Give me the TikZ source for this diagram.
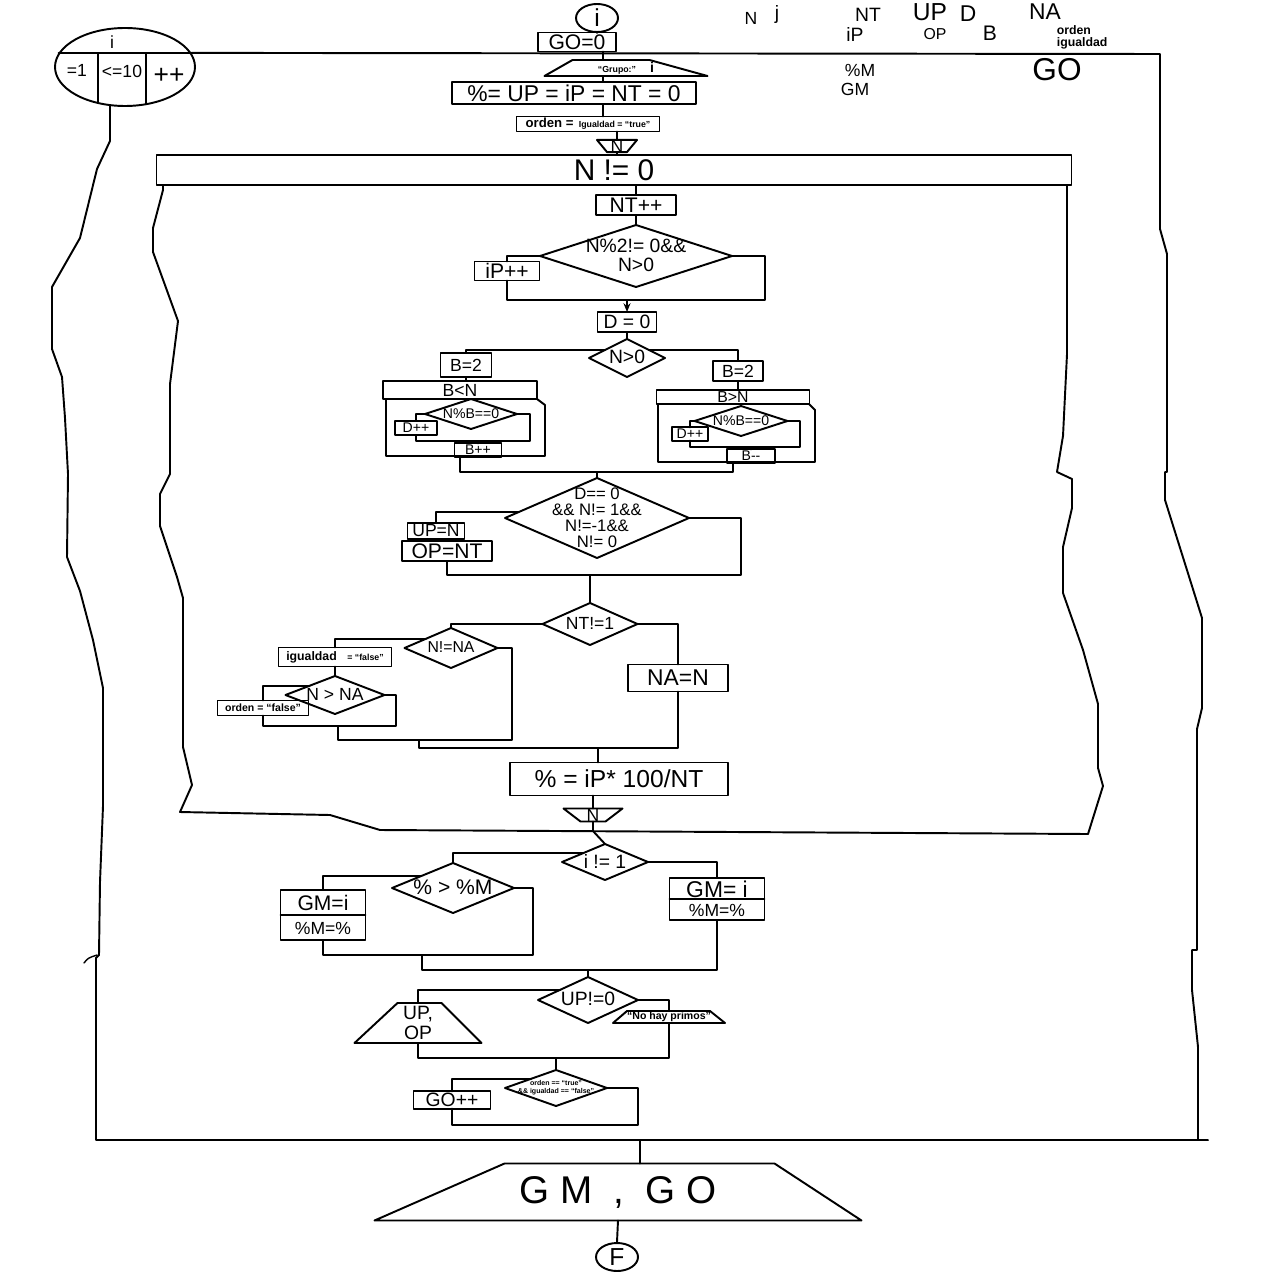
\documentclass[tikz,border=0pt]{standalone}
\usepackage{fontspec}
\setmainfont{Liberation Sans}
\usetikzlibrary{shapes.geometric,arrows.meta}
\newcommand{\fs}[1]{\fontsize{#1}{#1}\selectfont}
\newcommand{\dtext}[1]{\smash{\raisebox{-.35em}{\makebox[0pt]{\begin{tabular}{@{}c@{}}#1\end{tabular}}}}}
% narrow top (output) and narrow bottom (input) shapes round a node
\newcommand{\outtrap}[3]{\draw (#1.south west) -- (#1.south east) -- ([xshift=-#3*0.02cm]#1.north east) -- ([xshift=#2*0.02cm]#1.north west) -- cycle;}
\newcommand{\intrap}[3]{\draw (#1.north west) -- (#1.north east) -- ([xshift=-#3*0.02cm]#1.south east) -- ([xshift=#2*0.02cm]#1.south west) -- cycle;}
\begin{document}
\begin{tikzpicture}[x=0.02cm,y=-0.02cm,line width=1.1pt,line cap=round,line join=round,
  sz/.style 2 args={minimum width=#1*0.02cm,minimum height=#2*0.02cm},
  box/.style={draw,rectangle,inner sep=1pt,outer sep=0pt},
  dia/.style={draw,diamond,inner sep=0pt,outer sep=0pt},
  trap/.style={rectangle,inner sep=0pt,outer sep=0pt},
  circ/.style={draw,ellipse,inner sep=0pt,font=\fs{14}},
  arr/.style={-{Stealth[length=5pt,width=4pt]}}]
\fill[white] (0,0) rectangle (1280,1280);
\useasboundingbox (0,0) rectangle (1280,1280);

% variables
\node[font=\fs{10}] (vN) at (751,18) {N};
\node[font=\fs{11}] (vj) at (777,15) {j};
\node[font=\fs{11}] (vNT) at (868,15) {NT};
\node[font=\fs{14}] (vUP) at (930,12) {UP};
\node[font=\fs{13}] (vD) at (968,14) {D};
\node[font=\fs{13}] (vNA) at (1045,12) {NA};
\node[font=\fs{11}] (viP) at (855,35) {iP};
\node[font=\fs{9}] (vOP) at (935,34) {OP};
\node[font=\fs{12}] (vB) at (990,33) {B};
\node[font=\fs{7}\bfseries,anchor=west] (vorden) at (1050,30) {orden};
\node[font=\fs{7}\bfseries,anchor=west] (vigual) at (1050,43) {igualdad};
\node[font=\fs{10}] (vpM) at (860,70) {\%M};
\node[font=\fs{10}] (vGM) at (855,89) {GM};
\node[font=\fs{18}] (vGO) at (1057,70) {GO};

% for i
\node[draw,ellipse,inner sep=0pt,sz={140}{78}] (fori) at (125,67) {};
\draw (fori.168) -- (fori.12);
\draw (98,53) -- (98,103);
\draw (146,53) -- (146,104);
\node[font=\fs{10}] (fi) at (112,42) {i};
\node[font=\fs{10}] (fa) at (77,70) {=1};
\node[font=\fs{10}] (fb) at (122,71) {<=10};
\node[font=\fs{15}] (fc) at (169,76) {++};
\draw (fori.12) -- (1160,54) -- (1160,229) -- (1167,254) -- (1167,472) -- (1165,472) -- (1165,500)
  -- (1202,618) -- (1202,708) -- (1197,729) -- (1197,950) -- (1192,950) -- (1192,990) -- (1198,1047) -- (1198,1140);
\draw (110,105) -- (110,141) -- (97,169) -- (80,238) -- (52,287) -- (52,349) -- (62,377) -- (65,418)
  -- (68,474) -- (67,557) -- (80,591) -- (93,640) -- (103,688) -- (103,806) -- (100,882) -- (99,955)
  -- (96,958) -- (96,1140) -- (1208,1140);
\draw[line width=.8pt] (84,963) .. controls (88,958) .. (97,955);

% start
\node[circ,sz={42}{28}] (start) at (597,18) {i};
\node[box,sz={78}{19},font=\fs{12}] (go0) at (577,42) {GO=0};
\coordinate (s1) at (603,0);
\node[trap,sz={163}{16}] (grupo) at (626,68) {{\fs{5}\bfseries “Grupo:”}\hspace{8pt}{\fs{8}\bfseries i}};
\outtrap{grupo}{28}{58}
\node[box,sz={244}{22},font=\fs{13}] (init) at (574,93) {\%= UP = iP = NT = 0};
\node[box,sz={143}{15}] (ordtrue) at (588,124) {{\fs{7.5}\bfseries orden =}\hspace{3pt}{\fs{5}\bfseries Igualdad = “true”}};
\node[trap,sz={40}{12},font=\fs{10}] (nin) at (617,146) {N};
\intrap{nin}{10}{10}
\draw (start.south) -- (start.south |- go0.north);
\draw (go0.south -| s1) -- (grupo.north -| s1);
\draw (grupo.south -| s1) -- (init.north -| s1);
\draw (init.south -| s1) -- (ordtrue.north -| s1);
\draw (ordtrue.south -| nin.north) -- (nin.north);

% while N != 0
\node[box,sz={915}{30},font=\fs{17}] (whileN) at (614,170) {N != 0};
\draw (nin.south) -- (nin.south |- whileN.north);
\draw (163,185) -- (163,190) -- (153,228) -- (153,252) -- (178,321) -- (170,384) -- (170,474) -- (160,494)
  -- (160,526) -- (177,577) -- (183,598) -- (183,747) -- (192,785) -- (180,812) -- (330,815) -- (380,830) -- (1088,834);
\draw (1067,185) -- (1067,354) -- (1063,436) -- (1057,472) -- (1072,479) -- (1072,508) -- (1063,547)
  -- (1063,593) -- (1083,650) -- (1098,704) -- (1098,768) -- (1103,786) -- (1088,834);

\node[box,sz={80}{20},font=\fs{12}] (ntinc) at (636,205) {NT++};
\node[dia,sz={192}{62},font=\fs{11}] (c1) at (636,256) {\dtext{N\%2!= 0\&\&\\N>0}};
\node[box,sz={65}{19},font=\fs{12}] (ipinc) at (507,271) {iP++};
\coordinate (m1) at (627,300);
\coordinate (r1) at (765,300);
\draw (whileN.south -| ntinc.north) -- (ntinc.north);
\draw (ntinc.south) -- (c1.north);
\draw (c1.west) -| (ipinc.north);
\draw (ipinc.south) |- (r1) |- (c1.east);

\node[box,sz={59}{20},font=\fs{11}] (d0) at (627,322) {D = 0};
\draw[arr] (m1) -- (d0.north);
\node[dia,sz={76}{38},font=\fs{11}] (c2) at (627,358) {\dtext{N>0}};
\draw (d0.south) -- (c2.north);

% B < N
\node[box,sz={51}{24},font=\fs{10}] (b2l) at (466,365) {B=2};
\node[box,sz={154}{18},font=\fs{10}] (loopl) at (460,390) {B<N};
\draw (386,399) -- (386,456) -- (545,456) -- (545,405) -- (537,399);
\node[dia,sz={92}{30},font=\fs{8}] (c3l) at (471,414) {\dtext{N\%B==0}};
\node[box,sz={42}{14},font=\fs{8}] (dincl) at (416,428) {D++};
\coordinate (rl) at (530,441);
\node[box,sz={47}{12},font=\fs{8}] (bincl) at (478,450) {B++};
\draw (c2.160) -| (b2l.north);
\draw (b2l.south) -- (b2l.south |- loopl.north);
\draw (c3l.west) -| (dincl.north);
\draw (dincl.south) |- (rl) |- (c3l.east);
\draw (bincl.north |- rl) -- (bincl.north);

% B > N
\node[box,sz={50}{20},font=\fs{10}] (b2r) at (738,371) {B=2};
\node[box,sz={153}{14},font=\fs{9}] (loopr) at (733,397) {B>N};
\draw (658,404) -- (658,462) -- (815,462) -- (815,410) -- (809,404);
\node[dia,sz={93}{30},font=\fs{8}] (c3r) at (741,421) {\dtext{N\%B==0}};
\node[box,sz={36}{12},font=\fs{8}] (dincr) at (690,434) {D++};
\coordinate (rr) at (800,447);
\node[box,sz={48}{12},font=\fs{8}] (bdec) at (751,456) {B-{}-};
\draw (c2.20) -| (b2r.north);
\draw (b2r.south) -- (b2r.south |- loopr.north);
\draw (c3r.west) -| (dincr.north);
\draw (dincr.south) |- (rr) |- (c3r.east);
\draw (bdec.north |- rr) -- (bdec.north);

\coordinate (m2) at (597,472);
\draw (loopl.south |- bincl.south) |- (m2) -| (loopr.south |- bdec.south);

% prime test
\node[dia,sz={184}{80},font=\fontsize{9.5}{8.5}\selectfont] (c4) at (597,518) {\dtext{D== 0\\\&\& N!= 1\&\&\\N!=-1\&\&\\N!= 0}};
\node[box,sz={57}{16},font=\fs{10}] (upn) at (436,531) {UP=N};
\node[box,sz={90}{20},font=\fs{12}] (opnt) at (447,551) {OP=NT};
\coordinate (r4) at (741,575);
\coordinate (m4) at (590,575);
\draw (m2) -- (c4.north);
\draw (c4.176) -| (upn.north);
\draw (upn.south) -- (upn.south |- opnt.north);
\draw (opnt.south) |- (r4) |- (c4.east);

% NT != 1
\node[dia,sz={95}{42},font=\fs{10}] (c5) at (590,624) {\dtext{NT!=1}};
\node[dia,sz={93}{40},font=\fs{9}] (c6) at (451,648) {\dtext{N!=NA}};
\node[box,sz={113}{19}] (igf) at (335,657) {{\fs{7}\bfseries igualdad}\hspace{6pt}{\fs{5}\bfseries = “false”}};
\node[dia,sz={99}{38},font=\fs{10}] (c7) at (335,695) {\dtext{N > NA}};
\node[box,sz={91}{15},font=\fs{6}\bfseries] (ordf) at (263,708) {orden = “false”};
\node[box,sz={100}{27},font=\fs{13}] (nan) at (678,678) {NA=N};
\coordinate (r7) at (396,726);
\coordinate (m7) at (338,726);
\coordinate (r6) at (512,740);
\coordinate (ml6) at (419,740);
\coordinate (j5) at (419,748);
\coordinate (m5) at (598,748);
\draw (m4) -- (c5.north);
\draw (c5.west) -| (c6.north);
\draw (c6.160) -| (igf.north);
\draw (igf.south) -- (c7.north);
\draw (c7.160) -| (ordf.north);
\draw (ordf.south) |- (r7) |- (c7.east);
\draw (m7) |- (r6) |- (c6.east);
\draw (c5.east) -| (nan.north);
\draw (ml6) -- (j5) -| (nan.south);

\node[box,sz={218}{33},font=\fs{14}] (pct) at (619,779) {\% = iP* 100/NT};
\node[trap,sz={59}{13},font=\fs{10}] (nout) at (593,815) {N};
\intrap{nout}{17}{17}
\coordinate (lb) at (593,831);
\draw (m5) -- (m5 |- pct.north);
\draw (pct.south -| nout.north) -- (nout.north);
\draw (nout.south) -- (lb);

% best group
\node[dia,sz={86}{36},font=\fs{11}] (c8) at (605,862) {\dtext{i != 1}};
\node[dia,sz={122}{50},font=\fs{12}] (c9) at (453,888) {\dtext{\% > \%M}};
\node[box,sz={85}{50}] (gml) at (323,915) {};
\draw (gml.west) -- (gml.east);
\node[font=\fs{12}] (gmlA) at (323,903) {GM=i};
\node[font=\fs{10}] (gmlB) at (323,928) {\%M=\%};
\node[box,sz={95}{42}] (gmr) at (717,899) {};
\draw (gmr.west) -- (gmr.east);
\node[font=\fs{13}] (gmrA) at (717,889) {GM= i};
\node[font=\fs{10}] (gmrB) at (717,910) {\%M=\%};
\coordinate (r9) at (533,955);
\coordinate (m9) at (422,955);
\coordinate (j9) at (422,970);
\coordinate (m10) at (588,970);
\draw (lb) -- (c8.north);
\draw (c8.north west) -| (c9.north);
\draw (c8.east) -| (gmr.north);
\draw (c9.160) -| (gml.north);
\draw (gml.south) |- (r9) |- (c9.east);
\draw (m9) -- (j9) -| (gmr.south);

% UP != 0
\node[dia,sz={100}{46},font=\fs{11}] (c10) at (588,1000) {\dtext{UP!=0}};
\node[trap,sz={127}{40},font=\fontsize{11}{11}\selectfont,align=center] (upop) at (418,1023) {UP,\\OP};
\outtrap{upop}{43}{40}
\node[trap,sz={112}{12},font=\fs{6}\bfseries] (npr) at (669,1017) {“No hay primos”};
\outtrap{npr}{14}{15}
\coordinate (m11) at (556,1058);
\draw (m10) -- (c10.north);
\draw (c10.160) -| (upop.north);
\draw (c10.east) -| (npr.north);
\draw (upop.south) |- (m11) -| (npr.south);

% GO++
\node[dia,sz={102}{36},font=\fontsize{4}{4.6}\selectfont\bfseries] (c11) at (556,1088) {\dtext{orden == “true”\\\&\& igualdad == “false”}};
\node[box,sz={77}{17},font=\fs{11}] (goinc) at (452,1100) {GO++};
\coordinate (r11) at (638,1125);
\draw (m11) -- (c11.north);
\draw (c11.160) -| (goinc.north);
\draw (goinc.south) |- (r11) |- (c11.east);

% end
\coordinate (ob) at (640,1140);
\node[trap,sz={487}{57},font=\fs{22}] (gmgo) at (618,1192) {G M \ , \ G O};
\outtrap{gmgo}{130}{87}
\node[circ,sz={42}{28}] (fin) at (617,1257) {F};
\draw (ob) -- (ob |- gmgo.north);
\draw (gmgo.south) -- (fin.north);
\end{tikzpicture}
\end{document}
